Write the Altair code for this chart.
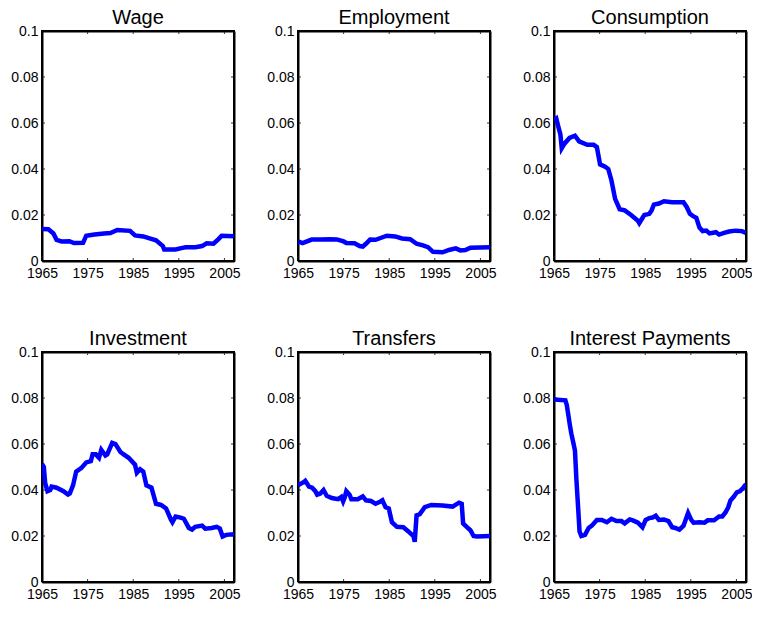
import altair as alt
import pandas as pd

X_TICKS = [1965, 1975, 1985, 1995, 2005]
Y_TICKS = [0, 0.02, 0.04, 0.06, 0.08, 0.1]
X_DOMAIN = [1965, 2007.1]
Y_DOMAIN = [0, 0.1]
TITLES = ["Wage", "Employment", "Consumption", "Investment", "Transfers", "Interest Payments"]

wage_year = [1965.0, 1966.4, 1967.5, 1968.2, 1969.3, 1971.0, 1972.0, 1974.0, 1974.7, 1976.5, 1978.6,
             1980.0, 1981.5, 1984.3, 1985.4, 1987.2, 1988.6, 1990.0, 1991.5, 1991.8, 1994.3, 1995.8,
             1996.5, 1998.6, 2000.1, 2001.1, 2002.6, 2003.7, 2004.4, 2007.1]
wage_val = [0.0139, 0.0138, 0.0120, 0.0092, 0.0085, 0.0086, 0.0078, 0.0079, 0.0110, 0.0115, 0.0120,
            0.0122, 0.0135, 0.0131, 0.0111, 0.0107, 0.0098, 0.0090, 0.0065, 0.0050, 0.0050, 0.0057,
            0.0060, 0.0060, 0.0065, 0.0077, 0.0075, 0.0095, 0.0110, 0.0108]

emp_year = [1965.0, 1966.0, 1968.0, 1970.0, 1972.0, 1973.5, 1975.0, 1975.6, 1977.4, 1978.5, 1979.2,
            1979.9, 1980.8, 1982.0, 1983.1, 1984.5, 1986.3, 1987.8, 1989.6, 1991.0, 1992.4, 1993.5,
            1994.6, 1996.7, 1998.1, 1999.6, 2000.6, 2001.7, 2002.8, 2007.1]
emp_val = [0.0085, 0.0078, 0.0093, 0.0093, 0.0095, 0.0094, 0.0085, 0.0078, 0.0077, 0.0065, 0.0063,
           0.0075, 0.0093, 0.0092, 0.0100, 0.0110, 0.0107, 0.0098, 0.0095, 0.0075, 0.0068, 0.0060,
           0.0040, 0.0038, 0.0048, 0.0055, 0.0046, 0.0048, 0.0058, 0.0060]

cons_year = [1965.0, 1965.5, 1966.0, 1966.4, 1966.7, 1967.3, 1968.4, 1969.6, 1970.5, 1972.3, 1973.7,
             1974.4, 1975.1, 1976.2, 1976.9, 1977.6, 1978.4, 1979.4, 1980.5, 1981.9, 1983.4, 1983.7,
             1984.8, 1985.9, 1986.4, 1986.9, 1988.0, 1989.1, 1990.9, 1993.4, 1994.1, 1994.8, 1995.5,
             1996.2, 1996.9, 1997.6, 1998.4, 1999.1, 2000.5, 2001.2, 2002.3, 2003.4, 2004.8, 2006.2,
             2007.1]
cons_val = [0.0613, 0.0620, 0.0580, 0.0550, 0.0490, 0.0510, 0.0535, 0.0545, 0.0520, 0.0505, 0.0505,
            0.0495, 0.0420, 0.0410, 0.0400, 0.0350, 0.0270, 0.0225, 0.0220, 0.0200, 0.0175, 0.0165,
            0.0200, 0.0205, 0.0220, 0.0245, 0.0250, 0.0260, 0.0255, 0.0255, 0.0235, 0.0205, 0.0195,
            0.0188, 0.0145, 0.0130, 0.0132, 0.0120, 0.0125, 0.0115, 0.0122, 0.0128, 0.0132, 0.0130,
            0.0122]

inv_year = [1965.0, 1965.4, 1965.7, 1966.2, 1966.8, 1967.1, 1968.2, 1969.7, 1970.7, 1971.1, 1971.8,
            1972.5, 1973.6, 1974.7, 1975.7, 1976.1, 1976.8, 1977.5, 1978.0, 1978.9, 1979.3, 1980.4,
            1981.1, 1982.2, 1982.9, 1984.0, 1985.4, 1985.8, 1986.5, 1987.2, 1987.9, 1989.0, 1990.0,
            1991.1, 1992.2, 1993.3, 1993.6, 1994.3, 1995.4, 1996.1, 1997.2, 1997.9, 1998.6, 2000.1,
            2000.8, 2002.2, 2003.3, 2004.0, 2004.6, 2005.4, 2007.1]
inv_val = [0.0513, 0.0500, 0.0430, 0.0395, 0.0400, 0.0415, 0.0410, 0.0395, 0.0380, 0.0385, 0.0420,
           0.0480, 0.0495, 0.0520, 0.0525, 0.0555, 0.0555, 0.0540, 0.0575, 0.0550, 0.0555, 0.0605,
           0.0600, 0.0565, 0.0555, 0.0540, 0.0510, 0.0475, 0.0490, 0.0480, 0.0420, 0.0410, 0.0340,
           0.0335, 0.0320, 0.0270, 0.0260, 0.0285, 0.0280, 0.0275, 0.0235, 0.0228, 0.0240, 0.0245,
           0.0232, 0.0235, 0.0240, 0.0232, 0.0198, 0.0205, 0.0208]

tr_year = [1965.0, 1966.3, 1966.6, 1967.4, 1968.1, 1968.8, 1969.2, 1969.9, 1970.6, 1971.3, 1972.4,
           1973.8, 1974.5, 1974.9, 1975.2, 1975.6, 1976.3, 1976.7, 1978.1, 1979.2, 1979.9, 1981.0,
           1982.0, 1983.1, 1983.5, 1984.2, 1984.9, 1985.6, 1986.7, 1988.1, 1989.2, 1990.3, 1990.6,
           1991.0, 1991.7, 1992.8, 1994.2, 1996.7, 1998.9, 2000.3, 2000.9, 2001.2, 2002.1, 2002.8,
           2003.5, 2004.2, 2007.1]
tr_val = [0.0420, 0.0435, 0.0440, 0.0415, 0.0410, 0.0395, 0.0380, 0.0385, 0.0400, 0.0375, 0.0365,
          0.0360, 0.0370, 0.0350, 0.0365, 0.0395, 0.0380, 0.0360, 0.0360, 0.0372, 0.0355, 0.0352,
          0.0340, 0.0350, 0.0355, 0.0325, 0.0320, 0.0260, 0.0240, 0.0238, 0.0220, 0.0200, 0.0175,
          0.0290, 0.0295, 0.0325, 0.0335, 0.0333, 0.0328, 0.0345, 0.0340, 0.0255, 0.0238, 0.0225,
          0.0200, 0.0198, 0.0200]

int_year = [1965.0, 1967.5, 1967.8, 1968.5, 1968.8, 1969.3, 1969.6, 1969.9, 1970.3, 1970.6, 1971.0,
            1971.8, 1972.6, 1973.3, 1974.4, 1975.5, 1976.6, 1977.6, 1978.7, 1979.8, 1980.5, 1981.6,
            1982.3, 1983.4, 1984.4, 1985.1, 1985.9, 1986.6, 1987.3, 1988.0, 1989.1, 1990.1, 1990.9,
            1991.6, 1992.5, 1993.4, 1994.4, 1995.1, 1995.6, 1996.9, 1998.0, 1998.7, 2000.1, 2001.2,
            2001.9, 2002.6, 2003.2, 2003.7, 2004.4, 2005.1, 2005.8, 2006.5, 2007.1]
int_val = [0.0794, 0.0790, 0.0770, 0.0680, 0.0645, 0.0600, 0.0570, 0.0450, 0.0320, 0.0220, 0.0200,
           0.0205, 0.0235, 0.0245, 0.0270, 0.0270, 0.0260, 0.0275, 0.0265, 0.0265, 0.0255, 0.0272,
           0.0268, 0.0258, 0.0238, 0.0270, 0.0278, 0.0280, 0.0288, 0.0270, 0.0272, 0.0265, 0.0238,
           0.0235, 0.0228, 0.0245, 0.0300, 0.0270, 0.0258, 0.0260, 0.0258, 0.0268, 0.0268, 0.0285,
           0.0285, 0.0302, 0.0325, 0.0355, 0.0370, 0.0390, 0.0395, 0.0410, 0.0425]

SERIES = [(wage_year, wage_val), (emp_year, emp_val), (cons_year, cons_val),
          (inv_year, inv_val), (tr_year, tr_val), (int_year, int_val)]

W, H = 192, 230
XS = alt.Scale(domain=X_DOMAIN, nice=False, zero=False)
YS = alt.Scale(domain=Y_DOMAIN, nice=False, zero=True)
FONT = "Liberation Sans"
TK = 3


def axis(orient, labels=True, fmt=None):
    values = X_TICKS if orient in ("bottom", "top") else Y_TICKS
    kw = dict(orient=orient, values=values, ticks=False, domain=True, domainColor="black",
              domainWidth=2, grid=False, title=None, labels=labels,
              labelFlush=False, labelOverlap=False, labelFont=FONT, labelFontSize=14,
              labelColor="black")
    if fmt:
        kw["format"] = fmt
    if not labels:
        kw["labelPadding"] = 0
    elif orient in ("bottom", "top"):
        kw["labelPadding"] = 5
    else:
        kw["labelPadding"] = 4
    return alt.Axis(**kw)


xt_df = pd.DataFrame({"t": X_TICKS})
yt_df = pd.DataFrame({"t": Y_TICKS})
# closed outline of the plot box, built from the two axis domains
frame_df = pd.DataFrame({
    "i": [0, 1, 2, 3, 4],
    "fx": [X_DOMAIN[0], X_DOMAIN[1], X_DOMAIN[1], X_DOMAIN[0], X_DOMAIN[0]],
    "fy": [Y_DOMAIN[0], Y_DOMAIN[0], Y_DOMAIN[1], Y_DOMAIN[1], Y_DOMAIN[0]],
})


def panel(title, years, vals):
    df = pd.DataFrame({"year": years, "value": vals})
    base = alt.Chart(df)
    top_right = base.mark_line(opacity=0).encode(
        x=alt.X("year:Q", scale=XS, axis=axis("top", labels=False)),
        y=alt.Y("value:Q", scale=YS, axis=axis("right", labels=False)),
    )
    line = base.mark_line(color="#0000ff", strokeWidth=4.5, clip=True).encode(
        x=alt.X("year:Q", scale=XS, axis=axis("bottom", fmt="d")),
        y=alt.Y("value:Q", scale=YS, axis=axis("left", fmt="~g")),
    )
    frame = alt.Chart(frame_df).mark_line(color="black", strokeWidth=2).encode(
        x=alt.X("fx:Q", scale=XS, axis=None),
        y=alt.Y("fy:Q", scale=YS, axis=None),
        order=alt.Order("i:Q"),
    )
    rule = dict(color="#333333", strokeWidth=1)
    yl = alt.Chart(yt_df).mark_rule(**rule).encode(
        y=alt.Y("t:Q", scale=YS, axis=None), x=alt.value(0), x2=alt.value(TK))
    yr = alt.Chart(yt_df).mark_rule(**rule).encode(
        y=alt.Y("t:Q", scale=YS, axis=None), x=alt.value(W - TK), x2=alt.value(W))
    xb = alt.Chart(xt_df).mark_rule(**rule).encode(
        x=alt.X("t:Q", scale=XS, axis=None), y=alt.value(H - TK), y2=alt.value(H))
    xtp = alt.Chart(xt_df).mark_rule(**rule).encode(
        x=alt.X("t:Q", scale=XS, axis=None), y=alt.value(0), y2=alt.value(TK))
    return (
        alt.layer(top_right, yl, yr, xb, xtp, frame, line)
        .resolve_axis(x="independent", y="independent")
        .properties(
            width=W, height=H,
            title=alt.TitleParams(title, font=FONT, fontSize=20, fontWeight="normal",
                                  color="black", offset=-4, anchor="middle"),
        )
    )


panels = [panel(t, s[0], s[1]) for t, s in zip(TITLES, SERIES)]
row1 = alt.hconcat(*panels[:3], spacing=26)
row2 = alt.hconcat(*panels[3:], spacing=26)
chart = (
    alt.vconcat(row1, row2, spacing=49)
    .properties(padding={"left": 2, "top": 0, "right": 0, "bottom": 0}, background="white")
    .configure_view(stroke=None)
)

chart.save("out.html", embed_options={"renderer": "svg", "actions": False})
